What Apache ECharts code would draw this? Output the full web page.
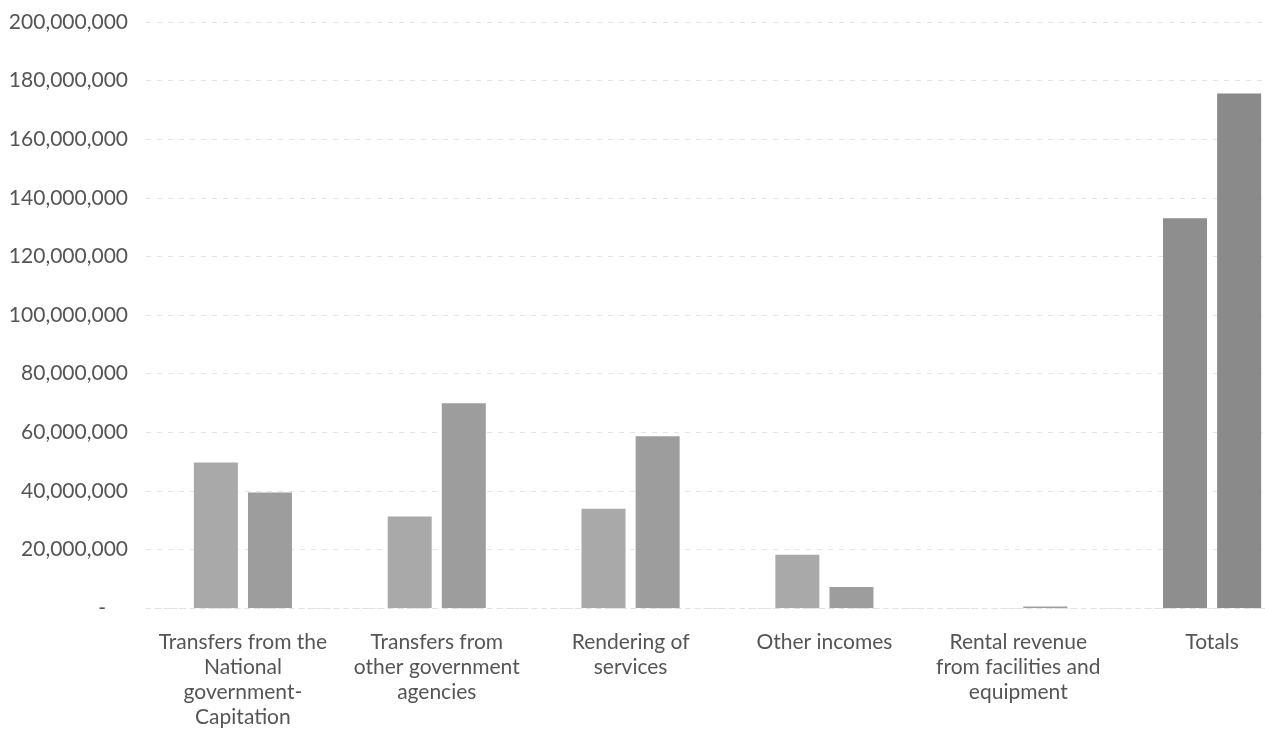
<!DOCTYPE html>
<html>
<head>
<meta charset="utf-8">
<style>
    html, body { margin: 0; padding: 0; background: #fff; }
    #chart { width: 1265px; height: 739px; }
</style>
<script src="https://cdn.jsdelivr.net/npm/echarts@6/dist/echarts.min.js"></script>
</head>
<body>
<div id="chart"></div>
<script>
    // categories (line breaks as in the original chart)
    var categories = [
        'Transfers from the\nNational\ngovernment-\nCapitation',
        'Transfers from\nother government\nagencies',
        'Rendering of\nservices',
        'Other incomes',
        'Rental revenue\nfrom facilities and\nequipment',
        'Totals'
    ];
    // two years, values
    var seriesA = [49700000, 31200000, 33900000, 18200000, 0, 133000000];
    var seriesB = [39400000, 69900000, 58600000, 7200000, 500000, 175600000];
    var yTicks = { min: 0, max: 200000000, step: 20000000 };

    var myChart = echarts.init(document.getElementById('chart'));

    function barColor(light, dark) {
        return function(p) {
            return p.dataIndex === categories.length - 1 ? dark : light; //totals print darker
        };
    }

    var option = {
        animation: false,
        grid: {
            left: 146,
            width: 1163, // the picture is cut off at the right edge
            top: 22,
            bottom: 131,
            outerBoundsMode: 'none'
        },
        xAxis: {
            type: 'category',
            data: categories,
            axisLine: { show: true, lineStyle: { color: '#e2e2e2', type: [4, 5] } },
            axisTick: { show: false },
            axisLabel: {
                interval: 0,
                margin: 22,
                color: '#555',
                fontFamily: 'Lato',
                fontSize: 21,
                lineHeight: 25
            }
        },
        yAxis: {
            type: 'value',
            min: yTicks.min,
            max: yTicks.max,
            interval: yTicks.step,
            axisLine: { show: false },
            axisTick: { show: false },
            splitLine: { lineStyle: { color: '#e4e4e4', type: [5, 6] } },
            axisLabel: {
                margin: 18,
                color: '#555',
                fontFamily: 'Lato',
                fontSize: 21,
                formatter: function(v) {
                    if (v === 0) return '{z|-}';
                    return v.toString().replace(/\B(?=(\d{3})+(?!\d))/g, ',');
                },
                rich: {
                    z: { padding: [0, 22, 0, 0], fontSize: 21, color: '#555' }
                }
            }
        },
        series: [{
            name: 'A',
            type: 'bar',
            data: seriesA,
            barWidth: 44,
            barGap: '23%',
            itemStyle: { color: barColor('#a9a9a9', '#8e8e8e') }
        }, {
            name: 'B',
            type: 'bar',
            data: seriesB,
            barWidth: 44,
            itemStyle: { color: barColor('#9d9d9d', '#8a8a8a') }
        }]
    };
    myChart.setOption(option);
</script>
</body>
</html>
